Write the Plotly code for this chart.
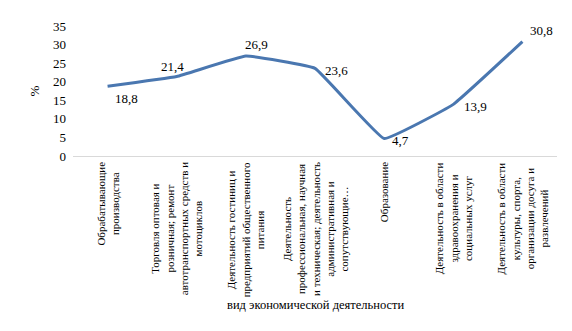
import plotly.graph_objects as go

categories = [
    "Обрабатывающие<br>производства",
    "Торговля оптовая и<br>розничная; ремонт<br>автотранспортных средств и<br>мотоциклов",
    "Деятельность гостиниц и<br>предприятий общественного<br>питания",
    "Деятельность<br>профессиональная, научная<br>и техническая; деятельность<br>административная и<br>сопутствующие…",
    "Образование",
    "Деятельность в области<br>здравоохранения и<br>социальных услуг",
    "Деятельность в области<br>культуры, спорта,<br>организации досуга и<br>развлечений",
]
values = [18.8, 21.4, 26.9, 23.6, 4.7, 13.9, 30.8]
label_texts = ["18,8", "21,4", "26,9", "23,6", "4,7", "13,9", "30,8"]
y_ticks = [0, 5, 10, 15, 20, 25, 30, 35]

# label offsets (pixels) relative to each point
label_dx = [19, -4, 11, 21, 16, 22, 19]
label_dy = [-12, 10, 12, -2, -2, -2, 11]

FONT = "Liberation Serif"

fig = go.Figure()
fig.add_trace(go.Scatter(
    x=list(range(len(values))), y=values, mode="lines",
    line=dict(color="#4A77B0", width=3, shape="spline", smoothing=0.25),
    hoverinfo="skip", showlegend=False,
))

for i, (v, t) in enumerate(zip(values, label_texts)):
    fig.add_annotation(x=i, y=v, xref="x", yref="y", text=t, showarrow=False,
                       xshift=label_dx[i], yshift=label_dy[i],
                       font=dict(family=FONT, size=13, color="#000000"))

# category labels: rotated, lines centered, top aligned under the axis
for i, c in enumerate(categories):
    fig.add_annotation(x=i, y=0, xref="x", yref="paper", text=c, showarrow=False,
                       textangle=-90, align="center", xanchor="center", yanchor="top",
                       yshift=-5, borderpad=0,
                       font=dict(family=FONT, size=11, color="#000000"))

fig.add_annotation(x=0.5, y=-(305 - 156) / 130, xref="paper", yref="paper",
                   text="вид экономической деятельности", yanchor="middle",
                   showarrow=False, font=dict(family=FONT, size=12.5, color="#000000"))

fig.update_layout(
    width=572, height=331,
    margin=dict(l=73, r=15, t=26, b=175),
    paper_bgcolor="white", plot_bgcolor="white",
    font=dict(family=FONT, color="#000000"),
)
fig.update_xaxes(
    range=[-0.5, len(values) - 0.5],
    tickmode="array", tickvals=list(range(len(values))), ticktext=[""] * len(values),
    showticklabels=False,
    showgrid=False, zeroline=False, showline=False, ticks="",
)
fig.update_yaxes(
    range=[0, 35], tickmode="array", tickvals=y_ticks,
    tickfont=dict(family=FONT, size=13, color="#000000"),
    showgrid=False, zeroline=True, zerolinecolor="#D9D9D9", zerolinewidth=1,
    showline=False, ticks="", ticklabelstandoff=6,
    title=dict(text="%", font=dict(family=FONT, size=13, color="#000000"), standoff=10),
)

fig.write_html("out.html")
